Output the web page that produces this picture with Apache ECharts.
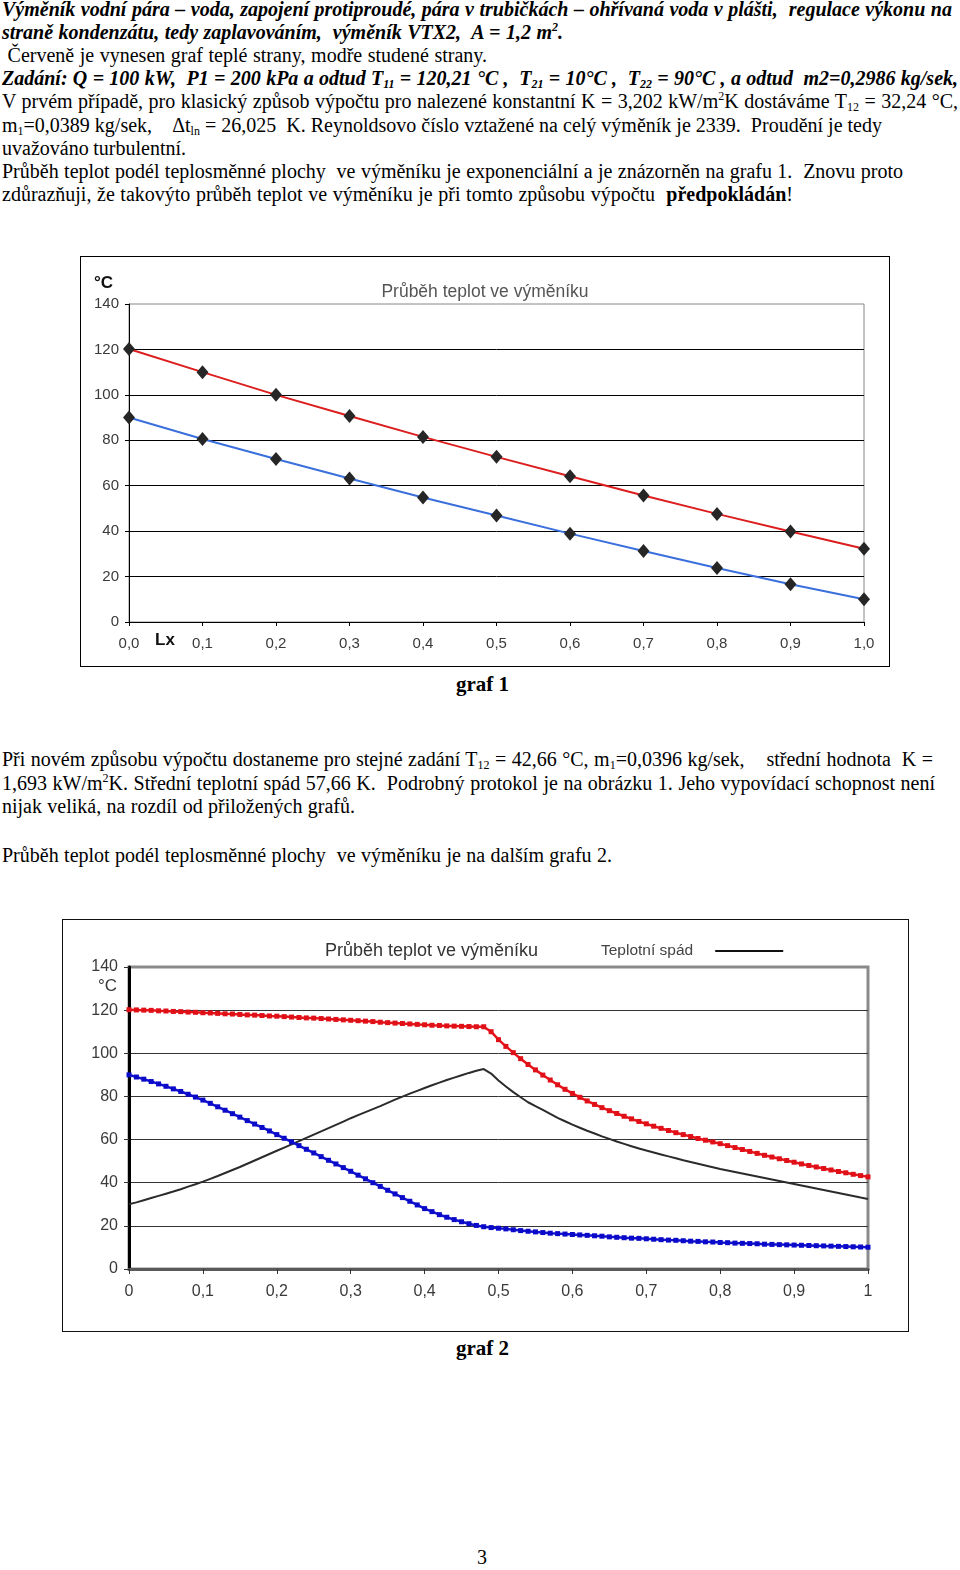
<!DOCTYPE html>
<html><head><meta charset="utf-8">
<script src="https://cdn.jsdelivr.net/npm/echarts@6.0.0/dist/echarts.min.js"></script>
<style>
html,body{margin:0;padding:0;background:#fff;}
body{width:960px;height:1570px;position:relative;overflow:hidden;font-family:"Liberation Serif","Times New Roman",serif;color:#000;}
.ln{position:absolute;left:2px;font-size:20px;line-height:20px;white-space:pre;}
.bi{font-weight:bold;font-style:italic;}
.b{font-weight:bold;}
.g{font-size:21px;}
.sb{font-size:12px;position:relative;top:3px;}
.sp{font-size:12px;position:relative;top:-8px;}
#c1{position:absolute;left:80px;top:256px;width:808px;height:409px;border:1px solid #000;}
#c2{position:absolute;left:62px;top:919px;width:845px;height:411px;border:1px solid #111;}
</style></head><body>
<div class="ln bi" data-b="15.3" data-r="952">Výměník vodní pára – voda, zapojení protiproudé, pára v trubičkách – ohřívaná voda v plášti,  regulace výkonu na</div>
<div class="ln bi" data-b="38.5" data-r="563">straně kondenzátu, tedy zaplavováním,  výměník VTX2,  A = 1,2 m<span class="sp">2</span>.</div>
<div class="ln" data-b="61.7" data-r="487"> Červeně je vynesen graf teplé strany, modře studené strany.</div>
<div class="ln bi" data-b="84.9" data-r="958">Zadání: Q = 100 kW,  P1 = 200 kPa a odtud T<span class="sb">11</span> = 120,21 °C ,  T<span class="sb">21</span> = 10°C ,  T<span class="sb">22</span> = 90°C , a odtud  m2=0,2986 kg/sek,</div>
<div class="ln" data-b="108.1" data-r="958">V prvém případě, pro klasický způsob výpočtu pro nalezené konstantní K = 3,202 kW/m<span class="sp">2</span>K dostáváme T<span class="sb">12</span> = 32,24 °C,</div>
<div class="ln" data-b="131.3" data-r="882">m<span class="sb">1</span>=0,0389 kg/sek,    Δt<span class="sb">ln</span> = 26,025  K. Reynoldsovo číslo vztažené na celý výměník je 2339.  Proudění je tedy</div>
<div class="ln" data-b="154.5" data-r="186">uvažováno turbulentní.</div>
<div class="ln" data-b="177.7" data-r="903">Průběh teplot podél teplosměnné plochy  ve výměníku je exponenciální a je znázorněn na grafu 1.  Znovu proto</div>
<div class="ln" data-b="200.9" data-r="793">zdůrazňuji, že takovýto průběh teplot ve výměníku je při tomto způsobu výpočtu  <span class="b">předpokládán</span>!</div>

<div id="c1"></div>
<div class="ln b g" style="left:456px" data-b="691">graf 1</div>

<div class="ln" data-b="766" data-r="933">Při novém způsobu výpočtu dostaneme pro stejné zadání T<span class="sb">12</span> = 42,66 °C, m<span class="sb">1</span>=0,0396 kg/sek,    střední hodnota  K =</div>
<div class="ln" data-b="789.3" data-r="935">1,693 kW/m<span class="sp">2</span>K. Střední teplotní spád 57,66 K.  Podrobný protokol je na obrázku 1. Jeho vypovídací schopnost není</div>
<div class="ln" data-b="812.6" data-r="355">nijak veliká, na rozdíl od přiložených grafů.</div>
<div class="ln" data-b="861.7" data-r="612">Průběh teplot podél teplosměnné plochy  ve výměníku je na dalším grafu 2.</div>

<div id="c2"></div>
<div class="ln b g" style="left:456px" data-b="1355">graf 2</div>
<div class="ln" style="left:477px" data-b="1564">3</div>

<script>
// ---------- graf 1 data ----------
const lx1   = [0, 0.1, 0.2, 0.3, 0.4, 0.5, 0.6, 0.7, 0.8, 0.9, 1.0];
const hot1  = [120.21, 110.0, 100.0, 90.7, 81.5, 72.7, 64.2, 55.7, 47.6, 39.8, 32.24];
const cold1 = [90.0, 80.6, 71.8, 63.2, 54.8, 46.9, 38.9, 31.3, 23.8, 16.6, 10.0];

// ---------- graf 2 data (step 0,01 along Lx) ----------
const lx2 = Array.from({length: 101}, (_, i) => i / 100);
const hot2 = [
120.2,120.1,120.0,119.9,119.7,119.6,119.4,119.3,119.1,119.0,
118.8,118.7,118.5,118.3,118.2,118.0,117.8,117.7,117.5,117.3,
117.2,117.0,116.8,116.6,116.4,116.3,116.1,115.9,115.7,115.5,
115.3,115.1,114.9,114.7,114.4,114.2,114.0,113.8,113.6,113.4,
113.2,113.0,112.9,112.7,112.6,112.5,112.4,112.3,112.3,110.0,
106.3,103.2,100.3,97.5,94.8,92.3,89.9,87.6,85.4,83.3,
81.4,79.6,77.9,76.3,74.8,73.4,72.1,70.8,69.6,68.4,
67.3,66.2,65.2,64.2,63.2,62.3,61.4,60.5,59.7,58.9,
58.1,57.2,56.3,55.4,54.5,53.6,52.7,51.9,51.1,50.3,
49.5,48.7,48.0,47.3,46.6,45.9,45.2,44.6,43.9,43.3,
42.7];
const cold2 = [
90.0,89.0,88.0,86.9,85.8,84.7,83.5,82.3,81.0,79.7,
78.3,76.8,75.2,73.6,72.0,70.4,68.8,67.2,65.6,64.0,
62.3,60.6,58.9,57.2,55.5,53.8,52.1,50.4,48.7,47.0,
45.3,43.5,41.8,40.0,38.3,36.5,34.8,33.1,31.4,29.7,
28.0,26.6,25.2,24.0,22.9,21.9,21.0,20.2,19.6,19.2,
18.9,18.6,18.2,17.8,17.5,17.2,16.9,16.6,16.4,16.2,
16.0,15.8,15.6,15.4,15.2,14.9,14.7,14.5,14.3,14.2,
14.0,13.8,13.6,13.4,13.3,13.1,12.9,12.8,12.6,12.5,
12.3,12.2,12.0,11.9,11.8,11.7,11.5,11.4,11.3,11.2,
11.1,11.0,10.9,10.8,10.7,10.6,10.5,10.4,10.3,10.2,
10.1];
const spad2 = [
30.0,30.9,31.9,32.9,33.9,34.9,35.9,37.0,38.2,39.3,
40.5,41.8,43.1,44.5,45.9,47.3,48.8,50.3,51.8,53.3,
54.8,56.3,57.8,59.3,60.8,62.3,63.8,65.3,66.8,68.3,
69.9,71.3,72.7,74.1,75.5,77.0,78.5,79.9,81.3,82.6,
83.9,85.2,86.4,87.6,88.7,89.8,90.9,91.9,92.7,90.6,
87.4,84.6,82.0,79.6,77.3,75.5,73.8,71.9,70.1,68.5,
66.9,65.5,64.1,62.8,61.5,60.3,59.1,58.0,56.9,55.9,
54.9,54.0,53.1,52.2,51.3,50.4,49.6,48.8,48.0,47.2,
46.4,45.7,45.0,44.3,43.6,42.9,42.2,41.5,40.8,40.1,
39.4,38.7,38.0,37.3,36.6,35.9,35.2,34.5,33.8,33.1,
32.5];

const chartTitle = 'Průběh teplot ve výměníku';
const legendName = 'Teplotní spád';

// ---------- text layout ----------
function layoutText() {
  document.querySelectorAll('.ln').forEach(el => {
    el.style.top = (parseFloat(el.dataset.b) - 16.75) + 'px';
    if (el.dataset.r) {
      const target = parseFloat(el.dataset.r) - parseFloat(getComputedStyle(el).left);
      el.style.wordSpacing = '0px';
      const w = el.getBoundingClientRect().width;
      const spaces = (el.textContent.match(/ /g) || []).length;
      if (spaces > 0) el.style.wordSpacing = ((target - w) / spaces) + 'px';
    }
  });
}

const sans = 'Liberation Sans, Arial, sans-serif';
const zip = (xs, ys) => xs.map((x, i) => [x, ys[i]]);

function drawCharts() {
  // ---- graf 1 ----
  const c1 = echarts.init(document.getElementById('c1'));
  c1.setOption({
    animation: false,
    title: { text: chartTitle, left: 'center', top: 21,
      textStyle: { fontFamily: sans, fontSize: 17.5, fontWeight: 'normal', color: '#555' } },
    grid: { left: 48, right: 25, top: 47, bottom: 44, show: true, borderColor: '#888', borderWidth: 1 },
    xAxis: { type: 'value', min: 0, max: 1, interval: 0.1,
      axisLine: { show: true, lineStyle: { color: '#000', width: 1 } },
      axisTick: { show: true, length: 4, lineStyle: { color: '#000' } },
      axisLabel: { margin: 14, fontFamily: sans, fontSize: 15, color: '#3a3a3a',
        formatter: v => v.toFixed(1).replace('.', ',') },
      splitLine: { show: false } },
    yAxis: { type: 'value', min: 0, max: 140, interval: 20,
      axisLine: { show: true, lineStyle: { color: '#000', width: 1 } },
      axisTick: { show: true, length: 4, lineStyle: { color: '#000' } },
      axisLabel: { margin: 10, fontFamily: sans, fontSize: 15, color: '#3a3a3a' },
      splitLine: { show: true, lineStyle: { width: 1,
        color: ['#000','#000','#000','#000','#000','#000','#000','transparent'] } } },
    graphic: [
      { type: 'text', left: 13, top: 18, style: { text: '°C', fontFamily: sans, fontSize: 17, fontWeight: 'bold', fill: '#111' } },
      { type: 'text', left: 74, top: 375, style: { text: 'Lx', fontFamily: sans, fontSize: 17, fontWeight: 'bold', fill: '#111' } }
    ],
    series: [
      { type: 'line', name: 'teplá strana', data: zip(lx1, hot1),
        lineStyle: { color: '#dc1e1e', width: 2 }, symbol: 'diamond', symbolSize: [12, 14],
        itemStyle: { color: '#262626' }, z: 3 },
      { type: 'line', name: 'studená strana', data: zip(lx1, cold1),
        lineStyle: { color: '#3a6fdc', width: 2 }, symbol: 'diamond', symbolSize: [12, 14],
        itemStyle: { color: '#262626' }, z: 3 }
    ]
  });

  // ---- graf 2 ----
  const c2 = echarts.init(document.getElementById('c2'));
  c2.setOption({
    animation: false,
    title: { text: chartTitle, left: 257, top: 17,
      textStyle: { fontFamily: sans, fontSize: 18, fontWeight: 'normal', color: '#333' } },
    legend: { data: [legendName], left: 533, top: 18, align: 'right', itemWidth: 68, itemHeight: 14,
      icon: 'path://M0,6 L68,6 L68,8 L0,8 Z',
      itemStyle: { color: '#111' },
      textStyle: { fontFamily: sans, fontSize: 15.5, color: '#444', padding: [0, 17, 0, 0] } },
    grid: { left: 66, right: 40, top: 47, bottom: 62, show: true, borderColor: '#8a8a8a', borderWidth: 3 },
    xAxis: { type: 'value', min: 0, max: 1, interval: 0.1,
      axisLine: { show: true, lineStyle: { color: '#5a5a5a', width: 3 } },
      axisTick: { show: true, length: 5, lineStyle: { color: '#333' } },
      axisLabel: { margin: 15, fontFamily: sans, fontSize: 16, color: '#3a3a3a',
        formatter: v => String(Math.round(v * 10) / 10).replace('.', ',') },
      splitLine: { show: false } },
    yAxis: { type: 'value', min: 0, max: 140, interval: 20,
      axisLine: { show: true, lineStyle: { color: '#000', width: 3 } },
      axisTick: { show: true, length: 5, lineStyle: { color: '#333' } },
      axisLabel: { margin: 11, fontFamily: sans, fontSize: 16, color: '#3a3a3a' },
      splitLine: { show: true, lineStyle: { width: 1,
        color: ['transparent','#333','#333','#333','#333','#333','#333','transparent'] } } },
    graphic: [
      { type: 'text', right: 845 - 54, top: 58, style: { text: '°C', fontFamily: sans, fontSize: 17, fill: '#3a3a3a' } }
    ],
    series: [
      { type: 'line', name: 'teplá strana', data: zip(lx2, hot2),
        lineStyle: { color: '#e8141a', width: 2.5 }, symbol: 'rect', symbolSize: 5,
        itemStyle: { color: '#e01018' }, z: 3 },
      { type: 'line', name: 'studená strana', data: zip(lx2, cold2),
        lineStyle: { color: '#1212d2', width: 2.5 }, symbol: 'rect', symbolSize: 5,
        itemStyle: { color: '#0a0ac8' }, z: 3 },
      { type: 'line', name: legendName, data: zip(lx2, spad2),
        lineStyle: { color: '#2b2b2b', width: 2 }, symbol: 'none', z: 2 }
    ]
  });
}

layoutText();
drawCharts();
if (document.fonts && document.fonts.ready) document.fonts.ready.then(layoutText);
</script>
</body></html>
